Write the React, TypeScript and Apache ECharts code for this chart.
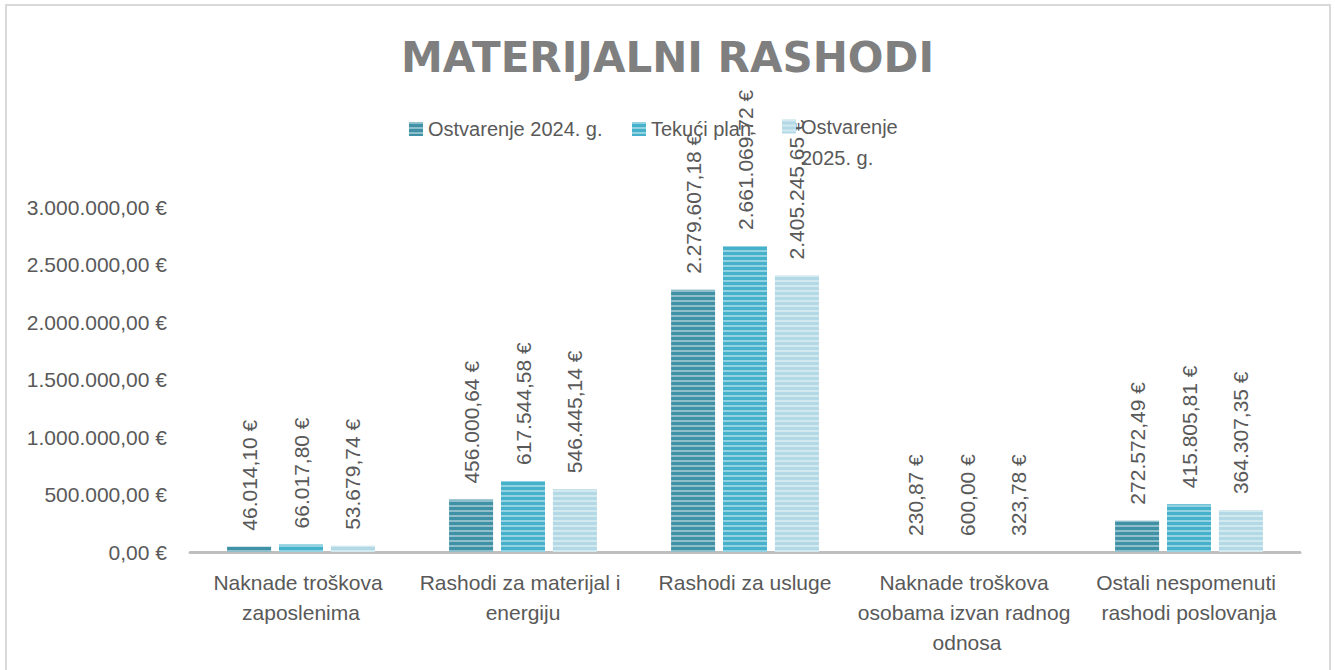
import React, { useEffect, useRef } from "react";
import * as echarts from "echarts";

const categories = [
  "Naknade troškova zaposlenima",
  "Rashodi za materijal i energiju",
  "Rashodi za usluge",
  "Naknade troškova osobama izvan radnog odnosa",
  "Ostali nespomenuti rashodi poslovanja",
];
const seriesNames = ["Ostvarenje 2024. g.", "Tekući plan", "Ostvarenje 2025. g."];
const ostvarenje2024 = [46014.1, 456000.64, 2279607.18, 230.87, 272572.49];
const tekuciPlan = [66017.8, 617544.58, 2661069.72, 600.0, 415805.81];
const ostvarenje2025 = [53679.74, 546445.14, 2405245.65, 323.78, 364307.35];
const yTicks = { min: 0, max: 3000000, interval: 500000 };
const titleText = "MATERIJALNI RASHODI";

const FONT = "'Liberation Sans', Arial, sans-serif";
const TEXT = "#595959";

function fmtEur(v: number): string {
  const [i, d] = Math.abs(v).toFixed(2).split(".");
  const withDots = i.replace(/\B(?=(\d{3})+(?!\d))/g, ".");
  return (v < 0 ? "-" : "") + withDots + "," + d + " €";
}

const colors = ["#3f91a6", "#45b1cb", "#b2d9e5"];

export default function App() {
  const ref = useRef<HTMLDivElement>(null);
  useEffect(() => {
    if (!ref.current) return;
    const chart = echarts.init(ref.current, undefined, { renderer: "svg" });
    const data = [ostvarenje2024, tekuciPlan, ostvarenje2025];
    const decal = {
      symbol: "rect",
      symbolSize: 1,
      dashArrayX: [1, 0],
      dashArrayY: [2, 3],
      rotation: 0,
      color: "rgba(255,255,255,0.42)",
    };
    const legendLefts = [409, 632, 782];
    chart.setOption({
      animation: false,
      backgroundColor: "#ffffff",
      title: {
        text: titleText,
        left: "center",
        top: 31,
        textStyle: {
          fontFamily: "'DejaVu Sans', sans-serif",
          fontSize: 42,
          fontWeight: "bold",
          color: "#7f7f7f",
        },
      },
      legend: seriesNames.map((n, i) => ({
        data: [n],
        left: legendLefts[i],
        top: i === 2 ? 80 : 119,
        padding: 0,
        icon: "rect",
        itemWidth: 14,
        itemHeight: 14,
        selectedMode: false,
        formatter:
          i === 2
            ? (name: string) => {
                const k = name.indexOf(" ");
                return "\n" + name.slice(0, k) + "\n" + name.slice(k + 1);
              }
            : undefined,
        textStyle:
          i === 2
            ? { fontFamily: FONT, fontSize: 20, color: TEXT, lineHeight: 31 }
            : { fontFamily: FONT, fontSize: 20, color: TEXT },
      })),
      grid: { left: 190, right: 35, top: 207, bottom: 118, containLabel: false },
      xAxis: {
        type: "category",
        data: categories,
        axisLine: { show: true, lineStyle: { color: "#bfbfbf", width: 3 } },
        axisTick: { show: false },
        axisLabel: {
          interval: 0,
          fontFamily: FONT,
          fontSize: 21,
          color: TEXT,
          width: 225,
          overflow: "break",
          lineHeight: 30,
          margin: 15,
        },
      },
      yAxis: {
        type: "value",
        min: yTicks.min,
        max: yTicks.max,
        interval: yTicks.interval,
        splitLine: { show: false },
        axisLine: { show: false },
        axisTick: { show: false },
        axisLabel: {
          fontFamily: FONT,
          fontSize: 21,
          color: TEXT,
          margin: 23,
          formatter: (v: number) => fmtEur(v),
        },
      },
      series: seriesNames.map((n, i) => ({
        name: n,
        type: "bar",
        data: data[i],
        barWidth: 44,
        barGap: "18%",
        itemStyle: { color: colors[i], decal },
        label: {
          show: true,
          position: "top",
          rotate: 90,
          align: "left",
          verticalAlign: "middle",
          distance: 16,
          fontFamily: FONT,
          fontSize: 21,
          color: TEXT,
          formatter: (p: any) => fmtEur(p.value),
        },
      })),
      graphic: [
        {
          type: "rect",
          silent: true,
          z: -1,
          shape: { x: 6, y: 5, width: 1324, height: 680 },
          style: { fill: "none", stroke: "#d9d9d9", lineWidth: 2 },
        },
      ],
    });
    return () => chart.dispose();
  }, []);
  return (
    <div
      ref={ref}
      style={{ position: "absolute", left: 0, top: 0, width: 1335, height: 670 }}
    />
  );
}
